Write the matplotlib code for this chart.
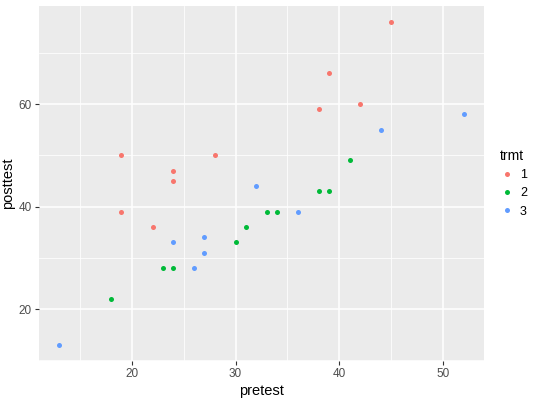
import matplotlib.pyplot as plt
from matplotlib.lines import Line2D

plt.rcParams['font.family'] = ['Liberation Sans', 'DejaVu Sans']

trmt = ["1", "2", "3"]
colors = ["#F8766D", "#00BA38", "#619CFF"]

pre_1 = [19, 19, 22, 24, 24, 28, 38, 39, 42, 45]
post_1 = [50, 39, 36, 47, 45, 50, 59, 66, 60, 76]
pre_2 = [18, 23, 24, 30, 31, 33, 34, 38, 39, 41]
post_2 = [22, 28, 28, 33, 36, 39, 39, 43, 43, 49]
pre_3 = [13, 24, 26, 27, 27, 32, 36, 44, 52]
post_3 = [13, 33, 28, 34, 31, 44, 39, 55, 58]

pre = [pre_1, pre_2, pre_3]
post = [post_1, post_2, post_3]

fig = plt.figure(figsize=(5.4, 3.99), dpi=100)
ax = fig.add_axes([0.0722, 0.0952, 0.824, 0.890])
ax.set_facecolor("#EBEBEB")

for xs, ys, c in zip(pre, post, colors):
    ax.scatter(xs, ys, s=13, color=c, linewidths=0, zorder=3)

ax.set_xlim(11.05, 53.95)
ax.set_ylim(9.85, 79.15)
ax.set_xticks([20, 30, 40, 50])
ax.set_yticks([20, 40, 60])
ax.set_xticks([15, 25, 35, 45], minor=True)
ax.set_yticks([10, 30, 50, 70], minor=True)
ax.grid(which="major", color="white", linewidth=1.1, zorder=0)
ax.grid(which="minor", color="white", linewidth=0.55, zorder=0)
ax.set_axisbelow(True)
for s in ax.spines.values():
    s.set_visible(False)
ax.tick_params(which="major", length=3, color="#333333", labelsize=8.5,
               labelcolor="#4D4D4D", pad=2)
ax.tick_params(which="minor", length=0)

ax.set_xlabel("pretest", fontsize=10.5, labelpad=3)
ax.set_ylabel("posttest", fontsize=10.5, labelpad=3)

handles = [Line2D([], [], marker="o", linestyle="", markersize=3.6,
                  markerfacecolor=c, markeredgewidth=0) for c in colors]
leg = fig.legend(handles, trmt, title="trmt", loc="upper left",
                 bbox_to_anchor=(0.905, 0.655), frameon=False,
                 fontsize=9, title_fontsize=10, handletextpad=0.4,
                 labelspacing=0.5, handlelength=1.2, alignment="left")

fig.savefig("out.png", dpi=100)
